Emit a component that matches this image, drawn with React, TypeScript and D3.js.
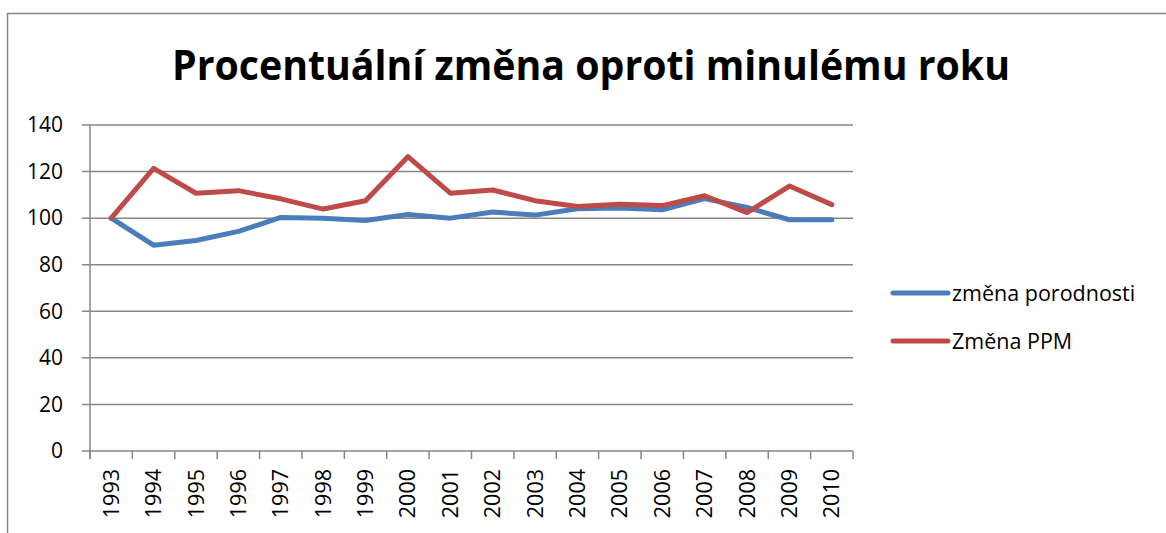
import React, { useRef, useEffect } from 'react'
import * as d3 from 'd3'

const years = ['1993', '1994', '1995', '1996', '1997', '1998', '1999', '2000', '2001', '2002', '2003', '2004', '2005', '2006', '2007', '2008', '2009', '2010']
const porodnost = [100, 88.4, 90.4, 94.3, 100.3, 100, 99, 101.6, 100, 102.6, 101.3, 104, 104.4, 103.6, 108.4, 104.6, 99.3, 99.3]
const ppm = [100, 121.4, 110.7, 111.8, 108.3, 103.9, 107.5, 126.4, 110.7, 112.1, 107.5, 105, 106, 105.4, 109.6, 102.4, 113.8, 105.8]
const seriesNames = ['změna porodnosti', 'Změna PPM']
const seriesColors = ['#4A7EBB', '#BE4B48']
const yTicks = [0, 20, 40, 60, 80, 100, 120, 140]
const title = 'Procentuální změna oproti minulému roku'

const W = 1166
const H = 533
const FONT = '"Open Sans", sans-serif'

const App: React.FC = () => {
  const node = useRef<SVGSVGElement | null>(null)

  useEffect(() => {
    const svg = d3.select(node.current)
    svg.selectAll('*').remove()

    const margin = { top: 125, right: 313, bottom: 82, left: 90 }
    const gray = '#868686'

    // chart border (runs off the right and bottom edge)
    svg
      .append('rect')
      .attr('x', 7.5)
      .attr('y', 13.5)
      .attr('width', W + 20)
      .attr('height', H + 20)
      .attr('fill', 'white')
      .attr('stroke', gray)
      .attr('stroke-width', 1.5)

    svg
      .append('text')
      .attr('x', 591)
      .attr('y', 80)
      .attr('text-anchor', 'middle')
      .attr('font-family', FONT)
      .attr('font-weight', 'bold')
      .attr('font-size', 41)
      .attr('textLength', 838)
      .attr('lengthAdjust', 'spacingAndGlyphs')
      .text(title)

    const x = d3
      .scaleBand()
      .domain(years)
      .range([margin.left, W - margin.right])
    const y = d3
      .scaleLinear()
      .domain([0, 140])
      .range([H - margin.bottom, margin.top])

    // gridlines
    svg
      .append('g')
      .selectAll('line')
      .data(yTicks)
      .join('line')
      .attr('x1', margin.left - 8)
      .attr('x2', W - margin.right)
      .attr('y1', (d) => y(d))
      .attr('y2', (d) => y(d))
      .attr('stroke', gray)
      .attr('stroke-width', 1.5)

    // y axis line
    svg
      .append('line')
      .attr('x1', margin.left)
      .attr('x2', margin.left)
      .attr('y1', y(140))
      .attr('y2', y(0) + 8)
      .attr('stroke', gray)
      .attr('stroke-width', 1.5)

    // x ticks at category boundaries
    const bounds = years.map((d) => x(d)).concat([W - margin.right])
    svg
      .append('g')
      .selectAll('line')
      .data(bounds)
      .join('line')
      .attr('x1', (d) => d)
      .attr('x2', (d) => d)
      .attr('y1', y(0))
      .attr('y2', y(0) + 8)
      .attr('stroke', gray)
      .attr('stroke-width', 1.5)

    svg
      .append('g')
      .selectAll('text')
      .data(yTicks)
      .join('text')
      .attr('x', 63)
      .attr('y', (d) => y(d))
      .attr('dy', '0.35em')
      .attr('text-anchor', 'end')
      .attr('font-family', FONT)
      .attr('font-size', 21)
      .text((d) => d)

    svg
      .append('g')
      .selectAll('text')
      .data(years)
      .join('text')
      .attr('transform', (d) => `translate(${x(d) + x.bandwidth() / 2},469) rotate(-90)`)
      .attr('dy', '0.35em')
      .attr('text-anchor', 'end')
      .attr('font-family', FONT)
      .attr('font-size', 21.5)
      .text((d) => d)

    const line = d3
      .line<number>()
      .x((d, i) => x(years[i]) + x.bandwidth() / 2)
      .y((d) => y(d))

    ;[porodnost, ppm].forEach((s, i) => {
      svg
        .append('path')
        .attr('d', line(s))
        .attr('fill', 'none')
        .attr('stroke', seriesColors[i])
        .attr('stroke-width', 5)
        .attr('stroke-linejoin', 'round')
        .attr('stroke-linecap', 'round')
    })

    // legend
    const lg = svg
      .append('g')
      .selectAll('g')
      .data(seriesNames)
      .join('g')
      .attr('transform', (d, i) => `translate(893,${293 + i * 48})`)
    lg.append('line')
      .attr('x1', 0)
      .attr('x2', 55)
      .attr('stroke', (d, i) => seriesColors[i])
      .attr('stroke-width', 5)
      .attr('stroke-linecap', 'round')
    lg.append('text')
      .attr('x', 59)
      .attr('dy', '0.35em')
      .attr('font-family', FONT)
      .attr('font-size', 21.5)
      .text((d) => d)
  }, [node])

  return (
    <svg
      ref={node}
      width={W}
      height={H}
      style={{ position: 'absolute', left: 0, top: 0, background: 'white' }}
    ></svg>
  )
}

export default App
